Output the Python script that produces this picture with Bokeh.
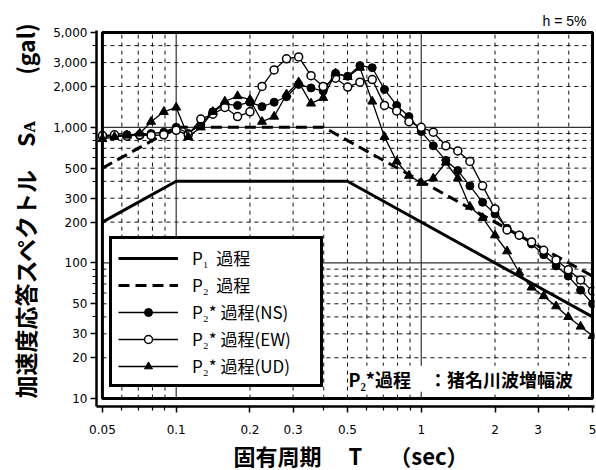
import math
from bokeh.plotting import figure
from bokeh.models import (FixedTicker, Range1d, BoxAnnotation, Label, Legend, LegendItem, Title)
from bokeh.embed import file_html
from bokeh.resources import INLINE

# ---------------- data ----------------
periods = [0.05, 0.056, 0.063, 0.071, 0.079, 0.089, 0.1, 0.112, 0.126, 0.141,
           0.158, 0.178, 0.2, 0.224, 0.251, 0.282, 0.316, 0.355, 0.398, 0.447,
           0.501, 0.562, 0.631, 0.708, 0.794, 0.891, 1.0, 1.12, 1.26, 1.41,
           1.58, 1.78, 2.0, 2.24, 2.51, 2.82, 3.16, 3.55, 3.98, 4.47, 5.0]
ns = [850, 870, 880, 870, 900, 920, 1000, 900, 1050, 1300,
      1480, 1450, 1530, 1420, 1530, 1680, 2070, 1950, 1850, 2500,
      2380, 2850, 2750, 1900, 1450, 1200, 930, 730, 570, 480,
      370, 280, 230, 180, 160, 138, 115, 95, 80, 63, 50]
ew = [870, 880, 860, 880, 870, 880, 950, 880, 1150, 1250,
      1400, 1200, 1300, 2000, 2650, 3200, 3300, 2400, 2000, 2300,
      1980, 2150, 2250, 1450, 1320, 1100, 1000, 920, 730, 670,
      560, 370, 250, 175, 160, 143, 124, 105, 89, 75, 62]
ud = [820, 850, 870, 900, 1100, 1300, 1400, 850, 1000, 1300,
      1550, 1700, 1600, 1100, 1200, 1750, 2150, 1500, 1650, 2500,
      2350, 2750, 1550, 850, 560, 440, 390, 420, 550, 420,
      260, 215, 160, 122, 85, 66, 57, 48, 40, 34, 29]
p1_t = [0.05, 0.1, 0.5, 5.0]
p1_s = [200, 400, 400, 40]
p2_t = [0.05, 0.1, 0.4, 5.0]
p2_s = [500, 1000, 1000, 80]

x_major = [0.05, 0.1, 0.2, 0.3, 0.5, 1, 2, 3, 5]
x_major_labels = ["0.05", "0.1", "0.2", "0.3", "0.5", "1", "2", "3", "5"]
x_minor = [0.06, 0.07, 0.08, 0.09, 0.4, 0.6, 0.7, 0.8, 0.9, 4]
y_major = [10, 20, 30, 50, 100, 200, 300, 500, 1000, 2000, 3000, 5000]
y_major_labels = ["10", "20", "30", "50", "100", "200", "300", "500",
                  "1,000", "2,000", "3,000", "5,000"]
y_minor = [40, 60, 70, 80, 90, 400, 600, 700, 800, 900, 4000]
grid_x_dashed = [0.06, 0.07, 0.08, 0.09, 0.2, 0.3, 0.4, 0.5, 0.6, 0.7, 0.8, 0.9, 2, 3, 4]
grid_x_solid = [0.1, 1]
grid_y_dashed = [20, 30, 40, 50, 60, 70, 80, 90, 200, 300, 400, 500, 600, 700, 800, 900,
                 2000, 3000, 4000]
grid_y_solid = [100, 1000]
x_lo, x_hi = 0.05, 5.0
y_lo, y_hi = 10, 5000

legend_labels = ["P\u2081  過程", "P\u2082  過程", "P\u2082* 過程(NS)",
                 "P\u2082* 過程(EW)", "P\u2082* 過程(UD)"]
x_title = "固有周期 \u3000T\u3000 （sec）"
y_title = "加速度応答スペクトル\u3000S\u1d00\u3000\u3000(gal)"
note_text = "P\u2082*過程\u3000：猪名川波増幅波"
damping_text = "h = 5%"

# ---------------- layout ----------------
W, H = 596, 470
BL, BR, BT, BB = 90, 2, 30, 59
FW = W - BL - BR
FH = H - BT - BB
Dx = (FW - 8) / 2.0
x_start = x_lo * 10 ** (-6 / Dx)
x_end = x_hi * 10 ** (2 / Dx)
Dy = (FH - 10) / math.log10(y_hi / y_lo)
y_start = y_lo * 10 ** (-8 / Dy)
y_end = y_hi * 10 ** (2 / Dy)

PAGE_FL = BL
PAGE_FB = BT + FH


def px_x(px):
    return x_start * 10 ** ((px - PAGE_FL) / (FW / math.log10(x_end / x_start)))


def px_y(py):
    return y_start * 10 ** ((PAGE_FB - py) / (FH / math.log10(y_end / y_start)))


p = figure(width=W, height=H, x_axis_type="log", y_axis_type="log",
           x_range=Range1d(x_start, x_end), y_range=Range1d(y_start, y_end),
           output_backend="svg", toolbar_location=None,
           min_border_left=BL, min_border_right=BR, min_border_top=BT, min_border_bottom=BB)
p.outline_line_color = None
p.xgrid.visible = False
p.ygrid.visible = False
p.background_fill_color = "white"
p.border_fill_color = "white"

for ax, ticks, minor, labels in ((p.xaxis[0], x_major, x_minor, x_major_labels),
                                 (p.yaxis[0], y_major, y_minor, y_major_labels)):
    ax.ticker = FixedTicker(ticks=ticks, minor_ticks=minor)
    ax.major_label_overrides = {float(t): l for t, l in zip(ticks, labels)}
    ax.axis_line_width = 2.5
    ax.axis_line_color = "black"
    ax.major_tick_out = 6
    ax.major_tick_in = 0
    ax.minor_tick_out = 4
    ax.minor_tick_in = 0
    ax.major_tick_line_width = 1.5
    ax.minor_tick_line_width = 1.2
    ax.major_tick_line_color = "black"
    ax.minor_tick_line_color = "black"
    ax.major_label_text_font = "DejaVu Sans"
    ax.major_label_text_font_size = "12px"
    ax.major_label_text_color = "black"
p.xaxis.major_label_standoff = 12
p.yaxis.major_label_standoff = 3

# axis titles and damping note (outside the frame)
CJK = "Noto Sans CJK JP"
SANS = "Liberation Sans"
p.add_layout(Title(text=x_title, align="left", offset=227 - BL, text_font=CJK,
                   text_font_size="22px", text_font_style="bold", text_color="black",
                   standoff=0), "below")
p.add_layout(Title(text=y_title, align="left", offset=8, text_font=CJK,
                   text_font_size="23px", text_font_style="bold", text_color="black",
                   standoff=14, vertical_align="top"), "left")
p.add_layout(Title(text=damping_text, align="right", offset=8, text_font=SANS,
                   text_font_size="14px", text_font_style="normal", text_color="black",
                   standoff=3), "above")

# grid
nxd, nyd = len(grid_x_dashed), len(grid_y_dashed)
p.segment(x0=grid_x_dashed, y0=[y_lo] * nxd, x1=grid_x_dashed, y1=[y_hi] * nxd,
          line_color="#111111", line_width=1, line_dash="4 4")
p.segment(x0=[x_lo] * nyd, y0=grid_y_dashed, x1=[x_hi] * nyd, y1=grid_y_dashed,
          line_color="#111111", line_width=1, line_dash="4 4")
p.segment(x0=grid_x_solid, y0=[y_lo] * 2, x1=grid_x_solid, y1=[y_hi] * 2,
          line_color="#333333", line_width=1.2)
p.segment(x0=[x_lo] * 2, y0=grid_y_solid, x1=[x_hi] * 2, y1=grid_y_solid,
          line_color="#333333", line_width=1.2)

# design spectra
r_p1 = p.line(p1_t, p1_s, line_width=3, line_color="black")
r_p2 = p.line(p2_t, p2_s, line_width=3, line_color="black", line_dash="11 6")

# observed spectra
r_ns_l = p.line(periods, ns, line_width=1.3, line_color="black")
r_ns_m = p.scatter(periods, ns, marker="circle", size=8, fill_color="black", line_color="black")
r_ew_l = p.line(periods, ew, line_width=1.3, line_color="black")
r_ew_m = p.scatter(periods, ew, marker="circle", size=8, fill_color="white",
                   line_color="black", line_width=1.5)
r_ud_l = p.line(periods, ud, line_width=1.3, line_color="black")
r_ud_m = p.scatter(periods, ud, marker="triangle", size=9, fill_color="black", line_color="black")

# frame
p.add_layout(BoxAnnotation(left=x_lo, right=x_hi, bottom=y_lo, top=y_hi,
                           fill_color=None, line_color="black", line_alpha=1.0,
                           line_width=3))

legend = Legend(items=[
    LegendItem(label=legend_labels[0], renderers=[r_p1]),
    LegendItem(label=legend_labels[1], renderers=[r_p2]),
    LegendItem(label=legend_labels[2], renderers=[r_ns_l, r_ns_m]),
    LegendItem(label=legend_labels[3], renderers=[r_ew_l, r_ew_m]),
    LegendItem(label=legend_labels[4], renderers=[r_ud_l, r_ud_m]),
], location=(13, 19))
legend.border_line_color = "black"
legend.border_line_alpha = 1.0
legend.border_line_width = 3
legend.background_fill_color = "white"
legend.background_fill_alpha = 1.0
legend.padding = 6
legend.spacing = 2
legend.margin = 0
legend.glyph_width = 60
legend.glyph_height = 20
legend.label_height = 20
legend.label_width = 122
legend.label_standoff = 14
legend.label_text_font = CJK
legend.label_text_font_size = "17px"
legend.label_text_color = "black"
p.add_layout(legend)

# note inside the frame
p.add_layout(Label(x=px_x(345), y=px_y(383), text=note_text, text_font=CJK,
                   text_font_size="18px", text_font_style="bold", text_color="black",
                   text_align="left", text_baseline="middle",
                   background_fill_color="white"))

open("out.html", "w").write(file_html(p, INLINE))
